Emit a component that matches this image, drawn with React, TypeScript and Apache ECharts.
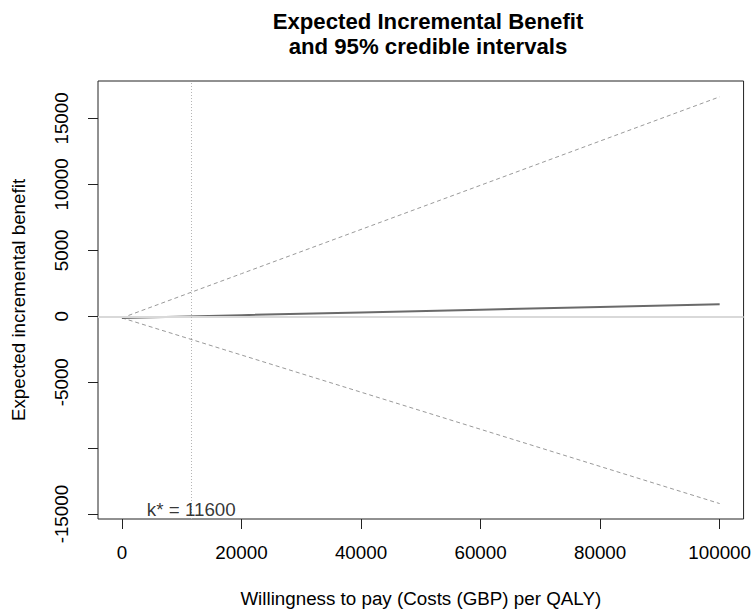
import React, { useEffect, useRef } from "react";
import * as echarts from "echarts";

const wtp = [0, 20000, 40000, 60000, 80000, 100000];
const eibMean = [-121, 87, 295, 503, 711, 920];
const eibUpper = [-121, 3231, 6583, 9935, 13288, 16640];
const eibLower = [-121, -2937, -5753, -8569, -11384, -14200];
const kStar = 11600;
const xTicks = [0, 20000, 40000, 60000, 80000, 100000];
const yTicks = [-15000, -10000, -5000, 0, 5000, 10000, 15000];
const yLabels = [-15000, -5000, 0, 5000, 10000, 15000];

const FONT = "'Liberation Sans', Arial, Helvetica, sans-serif";

export default function App() {
  const ref = useRef<HTMLDivElement>(null);
  useEffect(() => {
    const chart = echarts.init(ref.current!, null, { renderer: "svg" });
    const pair = (ys: number[]) => wtp.map((x, i) => [x, ys[i]]);
    chart.setOption({
      animation: false,
      backgroundColor: "#ffffff",
      textStyle: { fontFamily: FONT },
      title: {
        text: "Expected Incremental Benefit\nand 95% credible intervals",
        left: 423,
        textAlign: "center",
        top: 4,
        textStyle: {
          fontFamily: FONT,
          fontSize: 22.2,
          fontWeight: "bold",
          color: "#000",
          lineHeight: 25,
        },
      },
      grid: {
        left: 98,
        top: 81,
        width: 650,
        height: 443,
        show: true,
        borderColor: "#222",
        borderWidth: 1,
        backgroundColor: "transparent",
      },
      xAxis: {
        type: "value",
        min: -4000,
        max: 104000,
        name: "Willingness to pay (Costs (GBP) per QALY)",
        nameLocation: "middle",
        nameGap: 70,
        nameTextStyle: { fontFamily: FONT, fontSize: 18.8, color: "#000" },
        axisLine: { show: false, onZero: false },
        splitLine: { show: false },
        axisTick: {
          show: true,
          inside: false,
          length: 10,
          customValues: xTicks,
          lineStyle: { color: "#222", width: 1 },
        },
        axisLabel: {
          customValues: xTicks,
          margin: 24,
          fontFamily: FONT,
          fontSize: 18.8,
          color: "#000",
          formatter: (v: number) => String(v),
        },
      },
      yAxis: {
        type: "value",
        min: -15370,
        max: 17840,
        name: "Expected incremental benefit",
        nameLocation: "middle",
        nameGap: 70,
        nameTextStyle: { fontFamily: FONT, fontSize: 18.8, color: "#000" },
        axisLine: { show: false, onZero: false },
        splitLine: { show: false },
        axisTick: {
          show: true,
          inside: false,
          length: 10,
          customValues: yTicks,
          lineStyle: { color: "#222", width: 1 },
        },
        axisLabel: {
          customValues: yLabels,
          rotate: 90,
          margin: 27,
          fontFamily: FONT,
          fontSize: 18.8,
          color: "#000",
          formatter: (v: number) => String(v),
        },
      },
      series: [
        {
          type: "line",
          data: pair(eibUpper),
          symbol: "none",
          lineStyle: { color: "#9a9a9a", width: 1, type: [4, 3] },
          z: 2,
        },
        {
          type: "line",
          data: pair(eibLower),
          symbol: "none",
          lineStyle: { color: "#9a9a9a", width: 1, type: [4, 3] },
          z: 2,
        },
        {
          type: "line",
          data: pair(eibMean),
          symbol: "none",
          lineStyle: { color: "#6a6a6a", width: 2 },
          z: 3,
        },
        {
          type: "line",
          data: [],
          symbol: "none",
          z: 4,
          markLine: {
            silent: true,
            symbol: "none",
            label: { show: false },
            data: [
              { yAxis: 0, lineStyle: { color: "#d9d9d9", width: 2, type: "solid" } },
              { xAxis: kStar, lineStyle: { color: "#b5b5b5", width: 1, type: [1, 2] } },
            ],
          },
        },
        {
          type: "scatter",
          data: [[kStar, -14650]],
          symbolSize: 0,
          z: 5,
          label: {
            show: true,
            position: "inside",
            formatter: "k* = " + kStar,
            fontFamily: FONT,
            fontSize: 18.8,
            color: "#000",
          },
        },
      ],
    });
    return () => chart.dispose();
  }, []);
  return (
    <div
      ref={ref}
      style={{ position: "fixed", left: 0, top: 0, width: 754, height: 613, background: "#fff" }}
    />
  );
}
